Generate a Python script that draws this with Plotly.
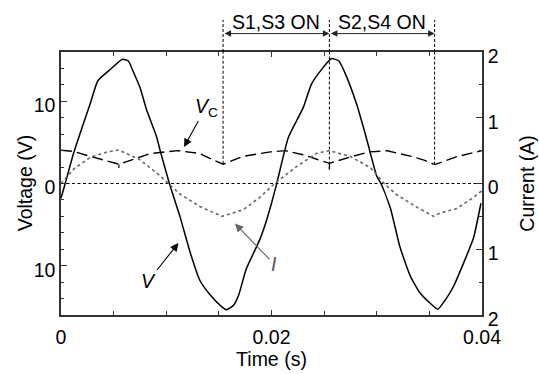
import plotly.graph_objects as go

# ---- data ----
t_v = [0.0000, 0.0004, 0.0012, 0.0020, 0.0028, 0.0035, 0.0047, 0.0058, 0.0064, 0.0069,
       0.0075, 0.0081, 0.0091, 0.0094, 0.0103, 0.0113, 0.0123, 0.0132, 0.0142, 0.0151,
       0.0157, 0.0164, 0.0169, 0.0176, 0.0189, 0.0194, 0.0200, 0.0205, 0.0216, 0.0230,
       0.0238, 0.0249, 0.0257, 0.0264, 0.0271, 0.0281, 0.0290, 0.0300, 0.0304, 0.0313,
       0.0322, 0.0332, 0.0341, 0.0351, 0.0358, 0.0366, 0.0373, 0.0385, 0.0392, 0.0399]
v_out = [-1.8, 0.0, 3.7, 6.8, 9.8, 12.5, 13.9, 15.1, 14.9, 13.5,
         11.7, 9.1, 5.6, 4.1, 0.0, -4.0, -8.5, -11.8, -13.6, -14.8,
         -15.35, -14.8, -13.5, -10.4, -6.8, -5.0, -2.4, 0.0, 5.6, 9.2,
         12.1, 14.1, 15.2, 14.9, 13.1, 9.6, 5.6, 0.9, 0.0, -3.0,
         -7.7, -11.3, -13.3, -14.6, -15.3, -14.0, -12.5, -8.9, -6.6, -2.4]

t_vc = [0.0000, 0.0012, 0.0028, 0.0044, 0.0055, 0.0068, 0.0085, 0.0111, 0.0132, 0.0144,
        0.0154, 0.0173, 0.0199, 0.0213, 0.0230, 0.0243, 0.0255, 0.0274, 0.0293, 0.0310,
        0.0333, 0.0345, 0.0355, 0.0377, 0.0400]
v_c = [4.05, 3.9, 3.3, 2.7, 2.35, 2.9, 3.65, 4.0, 3.65, 2.9,
       2.35, 3.3, 3.85, 4.0, 3.5, 2.95, 2.45, 3.2, 3.85, 3.98,
       3.3, 2.85, 2.3, 3.3, 4.0]

# small vertical ticks under the V_C cusps at the current peaks
t_spike = [0.0055, 0.0055, None, 0.0255, 0.0255]
v_spike = [2.35, 1.9, None, 2.45, 1.7]

t_i = [0.0000, 0.0012, 0.0028, 0.0044, 0.0055, 0.0075, 0.0091, 0.0102, 0.0113, 0.0132,
       0.0153, 0.0173, 0.0189, 0.0203, 0.0224, 0.0243, 0.0255, 0.0275, 0.0294, 0.0307,
       0.0318, 0.0337, 0.0354, 0.0360, 0.0376, 0.0392, 0.0400]
i_cur = [0.0, 0.22, 0.40, 0.48, 0.51, 0.36, 0.16, 0.0, -0.16, -0.35,
         -0.50, -0.40, -0.21, 0.0, 0.26, 0.46, 0.50, 0.41, 0.24, 0.0,
         -0.16, -0.35, -0.50, -0.45, -0.38, -0.21, -0.11]

t_zero = [0.0, 0.04]
v_zero = [0.0, 0.0]

# switching instants and where their marker lines stop on the V_C curve
switch_t = [0.0154, 0.0255, 0.0355]
switch_v = [2.4, 1.7, 2.3]
phase_labels = ["S1,S3 ON", "S2,S4 ON"]

x_range = [0, 0.04]
x_ticks = [0, 0.02, 0.04]
x_ticktext = ["0", "0.02", "0.04"]
v_range = [-16, 16]
v_ticks = [-10, 0, 10]
v_ticktext = ["10", "0", "10"]
i_range = [-2, 2]
i_ticks = [-2, -1, 0, 1, 2]
i_ticktext = ["2", "1", "0", "1", "2"]

FONT = "Liberation Sans, Arial, sans-serif"
FS = 19.5
AX = "#333333"

fig = go.Figure()
fig.add_trace(go.Scatter(x=t_zero, y=v_zero, mode="lines",
                         line=dict(color="black", width=1.2, dash="3px,2.5px"), showlegend=False))
fig.add_trace(go.Scatter(x=t_i, y=i_cur, mode="lines", yaxis="y2",
                         line=dict(color="#666666", width=1.6, dash="3px,3px"), showlegend=False))
fig.add_trace(go.Scatter(x=t_vc, y=v_c, mode="lines",
                         line=dict(color="black", width=1.4, dash="11px,5px"), showlegend=False))
fig.add_trace(go.Scatter(x=t_spike, y=v_spike, mode="lines",
                         line=dict(color="black", width=1.2), showlegend=False))
fig.add_trace(go.Scatter(x=t_v, y=v_out, mode="lines", line_shape="spline",
                         line=dict(color="black", width=1.5, smoothing=0.5), showlegend=False))

# switching marker lines: inside plot (data coords) and above it (paper coords)
for ts, vs in zip(switch_t, switch_v):
    fig.add_shape(type="line", xref="x", yref="y", x0=ts, x1=ts, y0=vs, y1=v_range[1],
                  line=dict(color="black", width=1, dash="3px,2px"))
    fig.add_shape(type="line", xref="x", yref="paper", x0=ts, x1=ts, y0=1.0, y1=1.122,
                  line=dict(color="black", width=1, dash="3px,2px"))

for k, lab in enumerate(phase_labels):
    a, b = switch_t[k], switch_t[k + 1]
    fig.add_annotation(x=b, y=1.07, xref="x", yref="paper", ax=a, ay=0,
                       axref="x", ayref="pixel", text="", showarrow=True,
                       arrowside="end+start", arrowhead=2, arrowsize=1.3, arrowwidth=1,
                       arrowcolor="#222222")
    fig.add_annotation(x=(a + b) / 2, y=1.115, xref="x", yref="paper", text=lab,
                       xanchor="center", yanchor="middle",
                       showarrow=False, font=dict(family=FONT, size=FS, color="black"))

# curve labels
fig.add_annotation(x=0.01169, y=4.45, ax=0.01378, ay=9.3, xref="x", yref="y",
                   axref="x", ayref="y", text="<i>V</i><sub>C</sub>", showarrow=True,
                   arrowhead=2, arrowsize=1.5, arrowwidth=1.1, arrowcolor="black",
                   font=dict(family=FONT, size=FS, color="black"))
fig.add_annotation(x=0.01116, y=-7.24, ax=0.00827, ay=-11.9, xref="x", yref="y",
                   axref="x", ayref="y", text="<i>V</i>", showarrow=True,
                   arrowhead=2, arrowsize=1.5, arrowwidth=1.1, arrowcolor="black",
                   font=dict(family=FONT, size=FS, color="black"))
fig.add_annotation(x=0.01653, y=-4.88, ax=0.02024, ay=-9.8, xref="x", yref="y",
                   axref="x", ayref="y", text="<i>I</i>", showarrow=True,
                   arrowhead=2, arrowsize=1.5, arrowwidth=1.1, arrowcolor="#666666",
                   font=dict(family=FONT, size=FS, color="#555555"))

# axis titles placed as annotations for exact position
fig.add_annotation(x=-0.086, y=0.5, xref="paper", yref="paper", text="Voltage (V)",
                   xanchor="center", yanchor="middle",
                   textangle=-90, showarrow=False, font=dict(family=FONT, size=FS, color="black"))
fig.add_annotation(x=1.105, y=0.5, xref="paper", yref="paper", text="Current (A)",
                   xanchor="center", yanchor="middle",
                   textangle=-90, showarrow=False, font=dict(family=FONT, size=FS, color="black"))

axis_common = dict(showgrid=False, zeroline=False, showline=True, linecolor=AX, linewidth=1.5,
                   ticks="inside", tickcolor=AX, tickwidth=1.2,
                   tickfont=dict(family=FONT, size=FS, color="black"))

fig.update_layout(
    width=539, height=374,
    margin=dict(l=61, r=57, t=52, b=51),
    paper_bgcolor="white", plot_bgcolor="white",
    showlegend=False,
    xaxis=dict(range=x_range, tickvals=x_ticks, ticktext=x_ticktext, ticklen=5,
               mirror="ticks", ticklabelstandoff=4,
               minor=dict(dtick=0.005, tick0=0, ticklen=4, ticks="inside", tickcolor=AX, tickwidth=1.2),
               title=dict(text="Time (s)", font=dict(family=FONT, size=FS, color="black"), standoff=0),
               **axis_common),
    yaxis=dict(range=v_range, tickvals=v_ticks, ticktext=v_ticktext, ticklen=6,
               ticklabelshift=4,
               minor=dict(dtick=2, tick0=0, ticklen=3, ticks="inside", tickcolor=AX, tickwidth=1.2),
               **axis_common),
    yaxis2=dict(range=i_range, tickvals=i_ticks, ticktext=i_ticktext, ticklen=6,
                overlaying="y", side="right", ticklabelshift=4,
                minor=dict(dtick=0.5, tick0=0, ticklen=3, ticks="inside", tickcolor=AX, tickwidth=1.2),
                **axis_common),
)

fig.write_html("out.html", config={"displayModeBar": False},
               post_script="document.body.style.margin='0';document.body.style.padding='0';")
